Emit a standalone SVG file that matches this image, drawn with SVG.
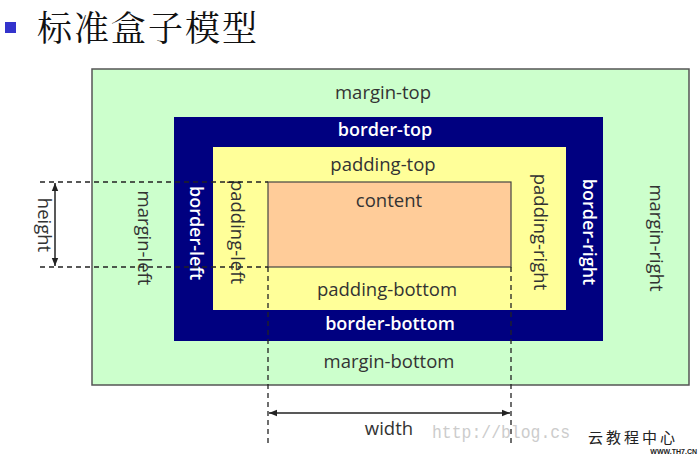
<svg xmlns="http://www.w3.org/2000/svg" width="700" height="457" viewBox="0 0 700 457">
<style>
.lbl{font-family:"Open Sans","Liberation Sans",sans-serif;font-size:18.5px;fill:#333;text-anchor:middle;dominant-baseline:central}
.wl{font-family:"Open Sans","Liberation Sans",sans-serif;font-size:18px;font-weight:600;fill:#fff;text-anchor:middle;dominant-baseline:central}
.dash{stroke:#222;stroke-width:1.3;stroke-dasharray:5,4;fill:none}
.arr{stroke:#222;stroke-width:1.5;fill:none;marker-start:url(#ah);marker-end:url(#ah)}
</style>
<defs>
<marker id="ah" viewBox="0 0 10 10" refX="10" refY="5" markerWidth="8" markerHeight="8" orient="auto-start-reverse" markerUnits="userSpaceOnUse">
<path d="M0,1 L10,5 L0,9 z" fill="#222"/>
</marker>
</defs>
<rect width="700" height="457" fill="#fff"/>
<g id="title">
<rect x="5" y="22" width="11" height="11" fill="#3333cc"/>
<text x="37" y="41" font-family="'Noto Serif CJK SC','Noto Sans CJK SC',serif" font-size="35" fill="#111" letter-spacing="2">标准盒子模型</text>
</g>
<g id="margin">
<rect x="92" y="69" width="597" height="316" fill="#ccffcc" stroke="#555" stroke-width="1.5"/>
<text class="lbl" x="383" y="91">margin-top</text>
<text class="lbl" x="389" y="360">margin-bottom</text>
<text class="lbl" transform="translate(145,238) rotate(90)">margin-left</text>
<text class="lbl" transform="translate(657,238) rotate(90)">margin-right</text>
</g>
<g id="border">
<rect x="174" y="117" width="429" height="224" fill="#000080"/>
<text class="wl" x="385" y="129">border-top</text>
<text class="wl" x="390" y="323">border-bottom</text>
<text class="wl" transform="translate(197,233) rotate(90)">border-left</text>
<text class="wl" transform="translate(590,232) rotate(90)">border-right</text>
</g>
<g id="padding">
<rect x="213" y="147" width="353" height="163" fill="#ffff99"/>
<text class="lbl" x="383" y="163">padding-top</text>
<text class="lbl" x="387" y="288">padding-bottom</text>
<text class="lbl" transform="translate(238,232) rotate(90)">padding-left</text>
<text class="lbl" transform="translate(541,232) rotate(90)">padding-right</text>
</g>
<g id="content">
<rect x="268" y="182" width="243" height="85" fill="#ffcc99" stroke="#444" stroke-width="1.2"/>
<text class="lbl" x="389" y="199">content</text>
</g>
<g id="connectors">
<line class="dash" x1="40" y1="182" x2="268" y2="182"/>
<line class="dash" x1="40" y1="267" x2="268" y2="267"/>
<line class="dash" x1="268" y1="267" x2="268" y2="445"/>
<line class="dash" x1="511" y1="267" x2="511" y2="445"/>
<line class="arr" x1="55" y1="183" x2="55" y2="266"/>
<line class="arr" x1="269" y1="413" x2="510" y2="413"/>
</g>
<g id="dims">
<text class="lbl" x="389" y="427">width</text>
<text class="lbl" transform="translate(45,225) rotate(90)">height</text>
</g>
<g id="watermark">
<text x="432" y="438" font-family="'Liberation Mono',monospace" font-size="19" fill="#ccc" textLength="138" lengthAdjust="spacingAndGlyphs">http://blog.cs</text>
<rect x="580" y="421" width="120" height="36" fill="#fff"/>
<text x="588" y="443" font-family="'Noto Sans CJK SC',sans-serif" font-size="15" fill="#222" letter-spacing="3">云教程中心</text>
<text x="697" y="454" text-anchor="end" font-family="'Liberation Sans',sans-serif" font-size="7" font-weight="bold" fill="#222">WWW.TH7.CN</text>
</g>
</svg>
